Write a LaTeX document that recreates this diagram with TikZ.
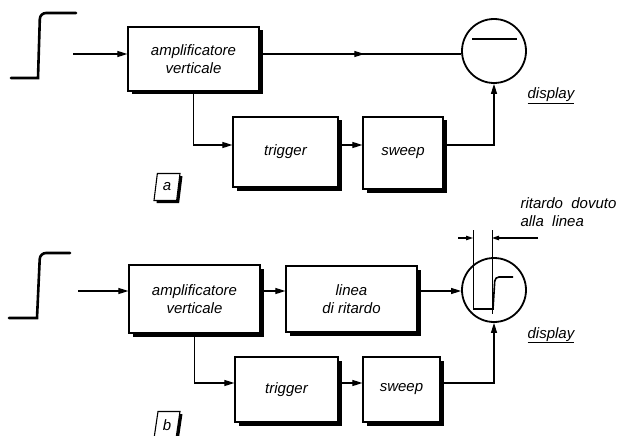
\documentclass[tikz,border=0pt]{standalone}
\usepackage{fontspec}
\setsansfont{Liberation Sans}
\usetikzlibrary{arrows.meta, shapes.geometric, decorations.markings}

\tikzset{
  lbl/.style={font=\fontsize{15}{18}\selectfont\sffamily\itshape},
  shadowed/.style={preaction={draw=none, fill=black,
    transform canvas={shift={(#1,-#1)}}}},
  block/.style={lbl, draw, line width=1.2pt, fill=white, align=center, shadowed=3.5pt},
  tube/.style={draw, circle, line width=1.8pt, minimum size=64pt, inner sep=0pt},
  tag/.style={lbl, draw, line width=1.1pt, fill=white, trapezium,
    trapezium left angle=80, trapezium right angle=100, trapezium stretches=true,
    minimum width=26pt, minimum height=27pt, inner sep=1pt, shadowed=2.5pt},
  stepline/.style={line width=2.6pt, line cap=round},
  mid arrow/.style={postaction={decorate}, decoration={markings,
    mark=at position 0.52 with {\arrow{>}}}}
}

\begin{document}
\begin{tikzpicture}[x=1pt, y=-1pt, line width=1.1pt,
    >={Triangle[length=10pt,width=6pt]}]
  \useasboundingbox (0,0) rectangle (622,436);

  % (a) without delay line
  \draw[stepline] (11,78) -- (38,78) [rounded corners=6pt] -- (40,13) -- (76,13);
  \node[block, minimum width=131pt, minimum height=64pt] (amp1) at (193.5,59)
    {amplificatore\\verticale};
  \node[block, minimum width=105pt, minimum height=70pt] (trig1) at (285.5,152) {trigger};
  \node[block, minimum width=80pt, minimum height=72pt] (sweep1) at (403,153) {sweep};
  \node[tube] (disp1) at (494,51) {};
  \draw[line width=1.6pt] (472,39) -- (517,39);
  \node[lbl, anchor=base] (lab1) at (551,99) {\underline{display}};
  \node[tag] (tag1) at (167,187) {a};
  % arrows
  \coordinate (in1) at (73,54);
  \coordinate (lo1) at (0,145);
  \draw[->] (in1) -- (in1 -| amp1.west);
  \draw[mid arrow] (in1 -| amp1.east) -- (in1 -| disp1.west);
  \draw[->] (amp1.south) |- (lo1 -| trig1.west);
  \draw[->] (lo1 -| trig1.east) -- (lo1 -| sweep1.west);
  \draw[->] (lo1 -| sweep1.east) -| (disp1.south);

  % (b) with delay line
  \draw[stepline] (9,318) -- (37,318) [rounded corners=6pt] -- (40,253) -- (70,253);
  \node[block, minimum width=131pt, minimum height=68pt] (amp2) at (194.5,299)
    {amplificatore\\verticale};
  \node[block, minimum width=131pt, minimum height=66pt] (delay2) at (351.5,299)
    {linea\\di ritardo};
  \node[block, minimum width=103pt, minimum height=65pt] (trig2) at (286.5,389.5) {trigger};
  \node[block, minimum width=77pt, minimum height=65pt] (sweep2) at (401.5,389.5) {sweep};
  \node[tube] (disp2) at (494,290) {};
  \draw[line width=1.6pt] (473,309) -- (493,309) [rounded corners=4pt] -- (495,277) -- (513,277);
  \node[lbl, anchor=base] (lab2) at (551,338) {\underline{display}};
  \node[tag] (tag2) at (167,425) {b};
  % delay marker
  \coordinate (dl) at (473,230);
  \coordinate (dr) at (492,230);
  \draw[line width=0.6pt] (dl) -- (473,309);
  \draw[line width=0.6pt] (dr) -- (492,314);
  \coordinate (dlo) at (458,238);
  \coordinate (dro) at (538,238);
  \draw[-{Triangle[length=7pt,width=4.5pt]}] (dlo) -- (dlo -| dl);
  \draw[-{Triangle[length=7pt,width=4.5pt]}] (dro) -- (dro -| dr);
  \node[lbl, anchor=north west, align=left, inner sep=0pt] (note2) at (520,197)
    {ritardo\ \ dovuto\\alla\ \ linea};
  % arrows
  \coordinate (in2) at (78,291);
  \coordinate (lo2) at (0,383);
  \draw[->] (in2) -- (in2 -| amp2.west);
  \draw[->] (in2 -| amp2.east) -- (in2 -| delay2.west);
  \draw[->] (in2 -| delay2.east) -- (in2 -| disp2.west);
  \draw[->] (amp2.south) |- (lo2 -| trig2.west);
  \draw[->] (lo2 -| trig2.east) -- (lo2 -| sweep2.west);
  \draw[->] (lo2 -| sweep2.east) -| (disp2.south);
\end{tikzpicture}
\end{document}
